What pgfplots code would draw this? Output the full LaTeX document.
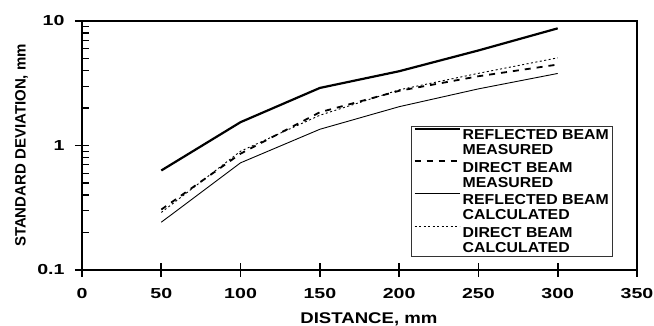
\documentclass[border=0pt]{standalone}
\usepackage{pgfplots}
\pgfplotsset{compat=1.18}
\usepackage{fontspec}
\setmainfont{Liberation Sans}
\newfontfamily\lbl{Liberation Sans}[FakeStretch=1.1]
\newfontfamily\xlf{Liberation Sans}[FakeStretch=1.2]
\newfontfamily\tkf{Liberation Sans}[FakeStretch=1.35]
\newfontfamily\ylf{Liberation Sans}
\begin{document}
\begin{tikzpicture}
\begin{axis}[
  scale only axis, width=555bp, height=249bp,
  xmin=0, xmax=350, ymode=log, ymin=0.1, ymax=10,
  xtick={0,50,100,150,200,250,300,350},
  xticklabels={0,50,100,150,200,250,300,350},
  ytick={0.1,1,10}, yticklabels={0.1,1,10},
  minor ytick={0.2,0.3,0.4,0.5,0.6,0.7,0.8,0.9,2,3,4,5,6,7,8,9},
  xtick pos=bottom, ytick pos=left,
  tick align=center,
  major tick length=14bp,
  minor tick length=7bp,
  minor y tick style={xshift=3.5bp},
  axis line style={line width=1.6bp},
  major tick style={line width=1.6bp, black},
  minor tick style={line width=1.2bp, black},
  /pgf/number format/assume math mode=true,
  ticklabel style={font=\tkf\bfseries\fontsize{14.5bp}{14.5bp}\selectfont},
  xticklabel style={yshift=-8bp},
  yticklabel style={xshift=-7bp},
  xlabel={DISTANCE, mm},
  ylabel={STANDARD DEVIATION, mm},
  xlabel style={font=\xlf\bfseries\fontsize{15.5bp}{15.5bp}\selectfont, at={(rel axis cs:0.517,0)}, anchor=base, yshift=-53bp},
  ylabel style={font=\ylf\bfseries\fontsize{15bp}{15bp}\selectfont, at={(rel axis cs:0,0.5)}, anchor=center, yshift=60.5bp},
  legend style={at={(rel axis cs:0.957,0.578)}, anchor=north east, draw=black!80, line width=0.8bp,
     font=\lbl\bfseries\fontsize{14.4bp}{15bp}\selectfont,
     cells={align=left, anchor=west}, inner xsep=2bp, inner ysep=1bp, row sep=2bp},
  legend image code/.code={\draw[#1] (0bp,14bp) -- (45bp,14bp);},
]
\addplot[black, line width=2.2bp] coordinates {(50,0.63)(100,1.54)(150,2.9)(200,3.95)(250,5.8)(300,8.73)};
\addlegendentry{REFLECTED BEAM\\MEASURED}
\addplot[black, line width=1.8bp, dash pattern=on 6bp off 6bp] coordinates {(50,0.306)(100,0.86)(150,1.85)(200,2.75)(250,3.6)(300,4.47)};
\addlegendentry{DIRECT BEAM\\MEASURED}
\addplot[black, line width=0.9bp] coordinates {(50,0.242)(100,0.726)(150,1.35)(200,2.05)(250,2.85)(300,3.79)};
\addlegendentry{REFLECTED BEAM\\CALCULATED}
\addplot[black, line width=0.9bp, dash pattern=on 2bp off 2.5bp] coordinates {(50,0.29)(100,0.9)(150,1.75)(200,2.8)(250,3.8)(300,5.06)};
\addlegendentry{DIRECT BEAM\\CALCULATED}
\end{axis}
\pgfresetboundingbox
\path[use as bounding box] (-82bp,-56bp) rectangle (572bp,270bp);
\end{tikzpicture}
\end{document}
